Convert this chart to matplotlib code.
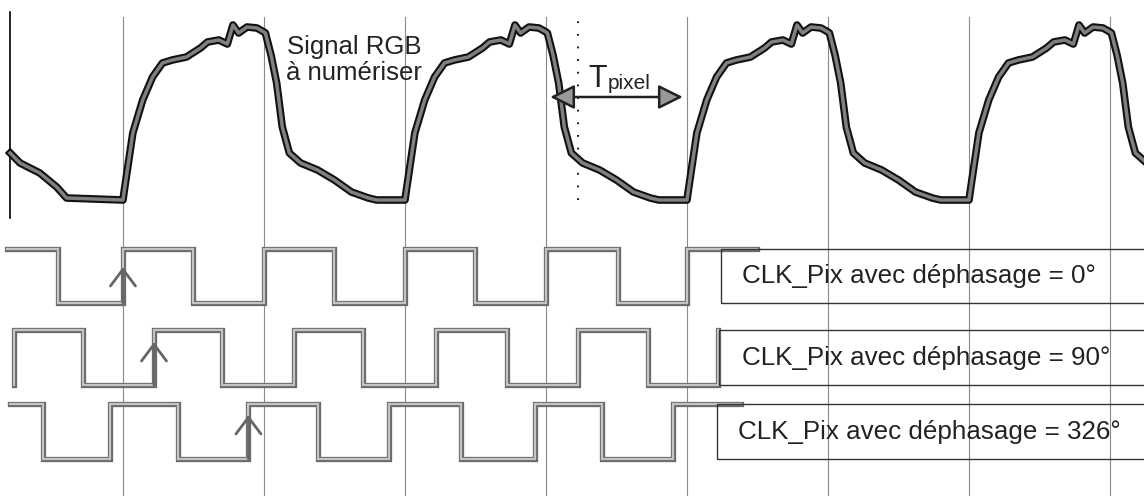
import numpy as np
import matplotlib.pyplot as plt
import matplotlib.patheffects as pe
from matplotlib.patches import Rectangle

plt.rcParams['font.family'] = ['Liberation Sans', 'DejaVu Sans']

# time axis in units of T_pixel, vertical axis in arbitrary levels
pixel_edges = [1, 2, 3, 4, 5, 6, 7, 8]

# RGB signal: start of trace, then one period shape repeated at each rising edge
sig_start_t = [0.20, 0.27, 0.41, 0.53, 0.60, 1.0]
sig_start_y = [343, 333, 323, 309, 298, 296]
sig_rises = [1, 3, 5, 7]
shape_dt = [0.0, 0.01, 0.07, 0.14, 0.21, 0.28, 0.35, 0.45, 0.55, 0.60, 0.68, 0.74, 0.78, 0.82,
            0.88, 0.95, 1.0,
            1.01, 1.05, 1.09, 1.13, 1.18, 1.26, 1.38, 1.50, 1.62, 1.74, 1.80, 2.0]
shape_y = [296, 306, 363, 396, 419, 433, 436, 439, 448, 454, 456, 452, 471, 463,
           469, 468, 464,
           463, 441, 413, 369, 343, 333, 326, 316, 304, 298, 296, 296]

# clocks
clk_names = ['CLK_Pix avec déphasage = 0°', 'CLK_Pix avec déphasage = 90°',
             'CLK_Pix avec déphasage = 326°']
clk_start = [0.18, 0.23, 0.20]
clk_start_high = [True, False, True]
clk_edges = [
    [0.54, 1.0, 1.50, 2.0, 2.50, 3.0, 3.50, 4.0, 4.51, 5.0],
    [0.23, 0.72, 1.22, 1.70, 2.21, 2.70, 3.22, 3.72, 4.23, 4.72, 5.22],
    [0.43, 0.91, 1.39, 1.89, 2.38, 2.89, 3.40, 3.92, 4.40, 4.90],
]
clk_end = [5.50, 5.22, 5.38]
clk_low = [193, 111, 37]
clk_high = [247, 166, 92]
clk_arrow_t = [1.0, 1.22, 1.89]
clk_arrow_tip = [229, 154, 81]
box_left = [5.24, 5.23, 5.21]
text_left = [5.39, 5.39, 5.36]

fig = plt.figure(figsize=(11.44, 4.96), dpi=100)
ax = fig.add_axes([0, 0, 1, 1])
ax.set_xlim(0.128, 8.241)
ax.set_ylim(0, 496)
ax.axis('off')

# vertical pixel-clock lines
for t in pixel_edges:
    ax.plot([t, t], [0, 479], color='#8a8a8a', lw=0.8, zorder=1)

# left axis and dotted sampling line
ax.plot([0.20, 0.20], [278, 484], color='black', lw=1.2)
ax.plot([4.227, 4.227], [296, 481], color='black', lw=1.3, ls=(0, (1, 6)))

# signal
sx = list(sig_start_t)
sy = list(sig_start_y)
for r in sig_rises:
    sx += [r + d for d in shape_dt]
    sy += shape_y
ax.plot(sx, sy, color='#808080', lw=2.5, zorder=3,
        path_effects=[pe.Stroke(linewidth=5.5, foreground='#111111'), pe.Normal()])

ax.text(2.64, 436, 'Signal RGB\nà numériser', fontsize=18.5, ha='center', va='center',
        multialignment='center', linespacing=1.15, color='#222222')

# T_pixel arrow
ax.annotate('', xy=(4.01, 399), xytext=(4.99, 399),
            arrowprops=dict(arrowstyle='<|-|>,head_length=0.5,head_width=0.25',
                            color='#222222', lw=1.8, mutation_scale=30, fc='#999999'))
ax.text(4.30, 409, 'T', fontsize=22, va='baseline', color='#222222')
ax.text(4.435, 407, 'pixel', fontsize=15, va='baseline', color='#222222')

# clocks
for i in range(3):
    high = clk_start_high[i]
    lv = lambda h: clk_high[i] if h else clk_low[i]
    xs = [clk_start[i]]
    ys = [lv(high)]
    for e in clk_edges[i]:
        xs.append(e)
        ys.append(lv(high))
        high = not high
        xs.append(e)
        ys.append(lv(high))
    xs.append(clk_end[i])
    ys.append(lv(high))
    ax.plot(xs, ys, color='#c4c4c4', lw=1.6, zorder=2, solid_joinstyle='miter',
            path_effects=[pe.Stroke(linewidth=3.8, foreground='#6a6a6a'), pe.Normal()])
    ax.annotate('', xy=(clk_arrow_t[i], clk_arrow_tip[i]), xytext=(clk_arrow_t[i], clk_low[i]),
                arrowprops=dict(arrowstyle='->,head_length=0.4,head_width=0.3',
                                color='#666666', lw=2.0, mutation_scale=30,
                                shrinkA=0, shrinkB=0))
    ax.add_patch(Rectangle((box_left[i], clk_low[i]), 4.0, clk_high[i] - clk_low[i],
                           fill=False, edgecolor='#333333', lw=1.0, zorder=2))
    ax.text(text_left[i], (clk_low[i] + clk_high[i]) / 2, clk_names[i], fontsize=18.7,
            va='center', color='#222222', zorder=4)

fig.savefig('out.png', dpi=100)
